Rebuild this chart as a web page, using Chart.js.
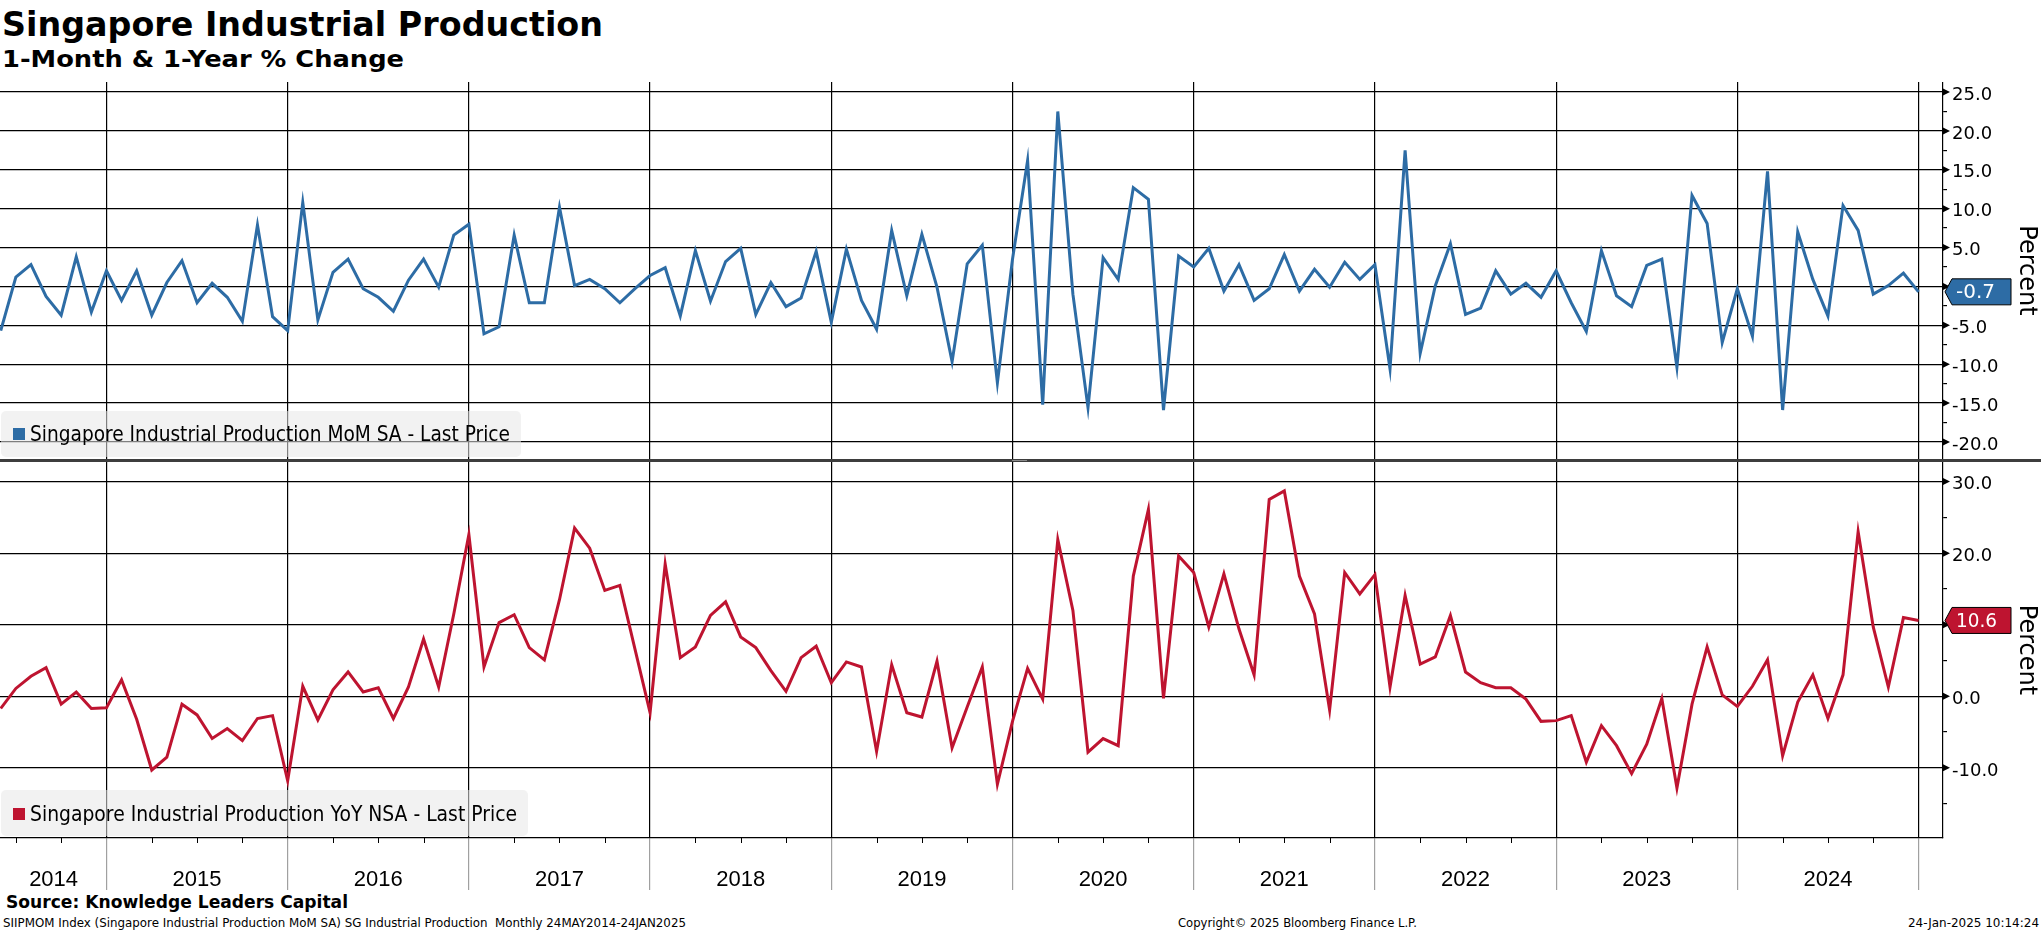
<!DOCTYPE html>
<html><head><meta charset="utf-8">
<script src="https://cdn.jsdelivr.net/npm/chart.js@4.4.1/dist/chart.umd.min.js"></script>
<style>
html,body{margin:0;padding:0;background:#fff;}
#wrap{position:relative;width:2041px;height:932px;overflow:hidden;background:#fff;}
.t{position:absolute;white-space:nowrap;line-height:1;color:#000;transform-origin:0 0;font-family:'DejaVu Sans',sans-serif;}
canvas{position:absolute;left:0;}
.leg{position:absolute;background:rgba(231,231,231,0.55);border-radius:5px;}
.sq{position:absolute;width:11.5px;height:11.5px;}
</style></head>
<body><div id="wrap">
<canvas id="cTop" width="2041" height="377" style="top:82px;width:2041px;height:377px"></canvas>
<canvas id="cBot" width="2041" height="430" style="top:462px;width:2041px;height:430px"></canvas>
<div style="position:absolute;left:0;top:459px;width:2041px;height:3px;background:#3d3d3d"></div>
<div style="position:absolute;left:1012px;top:460px;width:15px;height:1px;background:#8a8a8a"></div>

<div class="t" data-w="601" style="left:2px;top:8px;font-weight:bold;font-size:33px">Singapore Industrial Production</div>
<div class="t" data-w="402" style="left:2px;top:48px;font-weight:bold;font-size:23px">1-Month &amp; 1-Year % Change</div>

<div class="leg" style="left:1px;top:411px;width:520px;height:46px"></div>
<div class="sq" style="left:13px;top:428px;background:#2d6ca5"></div>
<div class="t" data-w="480" style="left:30px;top:424px;font-size:21px">Singapore Industrial Production MoM SA - Last Price</div>

<div class="leg" style="left:1px;top:790px;width:527px;height:46px"></div>
<div class="sq" style="left:13px;top:808px;background:#be1430"></div>
<div class="t" data-w="487" style="left:30px;top:804px;font-size:21px">Singapore Industrial Production YoY NSA - Last Price</div>

<div class="t" data-w="342" style="left:6px;top:894px;font-weight:bold;font-size:17px">Source: Knowledge Leaders Capital</div>
<div class="t" data-w="683" style="left:3px;top:917px;font-size:12px">SIIPMOM Index (Singapore Industrial Production MoM SA) SG Industrial Production&nbsp; Monthly 24MAY2014-24JAN2025</div>
<div class="t" data-w="239" style="left:1178px;top:917px;font-size:12px">Copyright© 2025 Bloomberg Finance L.P.</div>
<div class="t" data-w="131" style="left:1908px;top:917px;font-size:12px">24-Jan-2025 10:14:24</div>
</div>
<script>
// ---- DATA (monthly, May 2014 .. Dec 2024) ----
const startYear = 2014, startMonth = 5;
const mom = [-5.7, 1.2, 2.8, -1.3, -3.7, 3.8, -3.3, 2.0, -1.8, 2.0,
  -3.7, 0.5, 3.3, -2.1, 0.4, -1.4, -4.5, 7.9, -3.9, -5.7,
  10.8, -4.3, 1.8, 3.5, -0.3, -1.4, -3.2, 0.8, 3.5, -0.1,
  6.6, 8.0, -6.1, -5.2, 6.6, -2.1, -2.1, 10.2, 0.1, 0.9,
  -0.3, -2.1, -0.3, 1.4, 2.4, -3.8, 4.6, -1.9, 3.2, 4.9,
  -3.6, 0.5, -2.6, -1.5, 4.5, -4.6, 4.8, -1.8, -5.5, 7.2,
  -1.2, 6.7, -0.1, -9.7, 2.9, 5.3, -12.4, 3.5, 16.2, -15.2,
  22.5, -1.0, -15.6, 3.7, 0.9, 12.7, 11.2, -15.9, 3.9, 2.5,
  4.9, -0.6, 2.8, -1.8, -0.3, 4.1, -0.6, 2.2, -0.1, 3.1,
  0.9, 2.8, -10.6, 17.5, -8.6, 0.1, 5.5, -3.6, -2.8, 2.0,
  -1.0, 0.4, -1.4, 2.0, -2.1, -5.8, 4.6, -1.2, -2.6, 2.7,
  3.5, -10.4, 11.7, 8.1, -7.2, -0.3, -6.4, 14.8, -15.9, 7.0,
  0.9, -3.8, 10.4, 7.2, -1.0, 0.1, 1.7, -0.7];
const yoy = [-1.7, 1.1, 2.8, 4.0, -1.1, 0.6, -1.7, -1.6, 2.3, -3.2,
  -10.3, -8.5, -1.1, -2.6, -5.9, -4.5, -6.2, -3.1, -2.7, -11.8,
  1.4, -3.3, 0.9, 3.4, 0.6, 1.2, -3.1, 1.3, 8.0, 1.3,
  11.5, 22.6, 4.1, 10.3, 11.4, 6.8, 5.1, 13.5, 23.5, 20.7,
  14.8, 15.5, 6.6, -2.3, 18.5, 5.4, 6.9, 11.3, 13.2, 8.3,
  6.8, 3.6, 0.7, 5.4, 7.0, 1.9, 4.8, 4.1, -7.7, 4.4,
  -2.3, -2.9, 4.9, -7.2, -1.5, 4.1, -12.3, -3.5, 3.9, -0.4,
  21.9, 12.0, -7.8, -5.9, -6.9, 16.8, 26.1, -0.3, 19.6, 17.3,
  9.7, 17.1, 9.4, 3.0, 27.5, 28.7, 16.8, 11.5, -1.9, 17.3,
  14.3, 17.0, 1.3, 14.1, 4.5, 5.5, 11.3, 3.4, 1.9, 1.2,
  1.2, -0.4, -3.5, -3.4, -2.7, -9.2, -4.1, -6.9, -10.8, -6.7,
  -0.3, -12.8, -1.1, 6.9, 0.2, -1.4, 1.4, 5.1, -8.3, -0.8,
  3.0, -3.1, 3.0, 23.0, 9.7, 1.3, 11.0, 10.6];
const yearLabels = ['2014','2015','2016','2017','2018','2019','2020','2021','2022','2023','2024'];
const topMajor = [-20, -15, -10, -5, 0, 5, 10, 15, 20, 25];
const topMinor = [-17.5, -12.5, -7.5, -2.5, 2.5, 7.5, 12.5, 17.5, 22.5];
const botMajor = [-10, 0, 10, 20, 30];
const botMinor = [-15, -5, 5, 15, 25];

// x positions: month index (0 = end of May 2014); year boundary at end of December
const X_MIN = -0.05, X_MAX = 128.62;
const yearBounds = []; for (let k = 0; k <= 10; k++) yearBounds.push(7 + 12 * k);
const yearLabelPos = [3.5]; for (let k = 1; k <= 10; k++) yearLabelPos.push(1 + 12 * k);
const quarterTicks = []; for (let q = 1; q <= 127; q += 3) if (!yearBounds.includes(q)) quarterTicks.push(q);
const labelAt = {}; yearLabelPos.forEach((p, i) => labelAt[p] = yearLabels[i]);
const isBound = v => yearBounds.includes(v);

const BLUE = '#2d6ca5', RED = '#be1430';
const FONT = "'DejaVu Sans', sans-serif";

const axisMarks = {
  id: 'axisMarks',
  afterDraw(chart, args, opts) {
    const {ctx, chartArea, scales} = chart;
    const ax = chartArea.right;
    ctx.save();
    ctx.fillStyle = '#000';
    opts.major.forEach(v => {
      const py = scales.y.getPixelForValue(v);
      ctx.beginPath(); ctx.moveTo(ax, py - 3.5); ctx.lineTo(ax + 7, py); ctx.lineTo(ax, py + 3.5); ctx.closePath(); ctx.fill();
    });
    if (opts.quarters) {
      ctx.strokeStyle = '#000'; ctx.lineWidth = 1;
      opts.quarters.forEach(q => {
        const px = Math.round(scales.x.getPixelForValue(q)) + 0.5;
        ctx.beginPath(); ctx.moveTo(px, chartArea.bottom); ctx.lineTo(px, chartArea.bottom + 5); ctx.stroke();
      });
    }
    ctx.restore();
  }
};
const valueTag = {
  id: 'valueTag',
  afterDraw(chart, args, opts) {
    const {ctx, chartArea, scales: {y}} = chart;
    const v = opts.value, py = y.getPixelForValue(v);
    const x0 = chartArea.right + 2, x1 = x0 + 7, x2 = 2011, h = 13;
    ctx.save();
    ctx.beginPath(); ctx.moveTo(x0, py); ctx.lineTo(x1, py - h); ctx.lineTo(x2, py - h); ctx.lineTo(x2, py + h); ctx.lineTo(x1, py + h); ctx.closePath();
    ctx.fillStyle = opts.color; ctx.fill(); ctx.lineWidth = 1; ctx.strokeStyle = '#000'; ctx.stroke();
    ctx.fillStyle = '#fff'; ctx.font = "20px " + FONT; ctx.textBaseline = 'middle'; ctx.textAlign = 'left';
    ctx.fillText(v.toFixed(1), 1956, py + 1, 41);
    ctx.restore();
  }
};

function zeroPad(s) { s.paddingTop = 0; s.paddingBottom = 0; s.paddingLeft = 0; s.paddingRight = 0; }

function yAxis(min, max, major, minor) {
  const all = major.concat(minor).filter(v => v >= min && v <= max).sort((a, b) => a - b);
  return {
    position: 'right', min, max,
    afterBuildTicks: s => { s.ticks = all.map(v => ({value: v})); },
    ticks: {autoSkip: false, callback: v => major.includes(v) ? v.toFixed(1) : '', color: '#000', font: {family: FONT, size: 18}, padding: 5, labelOffset: 3},
    grid: {color: c => major.includes(c.tick.value) ? '#000' : 'rgba(0,0,0,0)', tickColor: c => major.includes(c.tick.value) ? 'rgba(0,0,0,0)' : '#000', tickLength: 4, lineWidth: 1.2},
    border: {color: '#000', width: 1.2},
    title: {display: true, text: 'Percent', color: '#000', font: {family: FONT, size: 24}, padding: 0},
    afterFit: s => { s.width = 98; zeroPad(s); }
  };
}

function series(vals) { return vals.map((v, i) => ({x: i, y: v})); }

const common = {responsive: false, animation: false, devicePixelRatio: 1, layout: {padding: 0}, events: []};

new Chart(document.getElementById('cTop'), {
  type: 'line',
  data: {datasets: [{data: series(mom), borderColor: BLUE, borderWidth: 3, pointRadius: 0, tension: 0, fill: false}]},
  options: Object.assign({}, common, {
    plugins: {legend: {display: false}, tooltip: {enabled: false}, axisMarks: {major: topMajor}, valueTag: {value: mom[mom.length - 1], color: BLUE}},
    scales: {
      x: {type: 'linear', min: X_MIN, max: X_MAX,
        afterBuildTicks: s => { s.ticks = yearBounds.map(v => ({value: v})); },
        ticks: {display: false}, grid: {color: '#000', lineWidth: 1.2, drawTicks: false}, border: {display: false},
        afterFit: s => { s.height = 0; zeroPad(s); }},
      y: yAxis(-22.2, 26.29, topMajor, topMinor)
    }
  }),
  plugins: [axisMarks, valueTag]
});

const xTicksBot = yearBounds.concat(yearLabelPos).sort((a, b) => a - b);
new Chart(document.getElementById('cBot'), {
  type: 'line',
  data: {datasets: [{data: series(yoy), borderColor: RED, borderWidth: 3, pointRadius: 0, tension: 0, fill: false}]},
  options: Object.assign({}, common, {
    plugins: {legend: {display: false}, tooltip: {enabled: false}, axisMarks: {major: botMajor, quarters: quarterTicks}, valueTag: {value: yoy[yoy.length - 1], color: RED}},
    scales: {
      x: {type: 'linear', min: X_MIN, max: X_MAX,
        afterBuildTicks: s => { s.ticks = xTicksBot.map(v => ({value: v})); },
        ticks: {autoSkip: false, maxRotation: 0, minRotation: 0, callback: v => labelAt[v] || '', color: '#000', font: {family: "'Liberation Sans', sans-serif", size: 22}, padding: -23},
        grid: {color: c => isBound(c.tick.value) ? '#000' : 'rgba(0,0,0,0)', tickColor: c => isBound(c.tick.value) ? '#a0a0a0' : 'rgba(0,0,0,0)', tickLength: 52, lineWidth: 1.2},
        border: {color: '#000', width: 1.2},
        afterFit: s => { s.height = 54; zeroPad(s); }},
      y: yAxis(-19.8, 32.74, botMajor, botMinor)
    }
  }),
  plugins: [axisMarks, valueTag]
});

function fitTexts() {
  document.querySelectorAll('[data-w]').forEach(el => {
    el.style.transform = 'none';
    const w = el.getBoundingClientRect().width;
    if (w > 0) el.style.transform = 'scaleX(' + (parseFloat(el.dataset.w) / w) + ')';
  });
}
fitTexts();
if (document.fonts && document.fonts.ready) document.fonts.ready.then(fitTexts);
</script>
</body></html>
